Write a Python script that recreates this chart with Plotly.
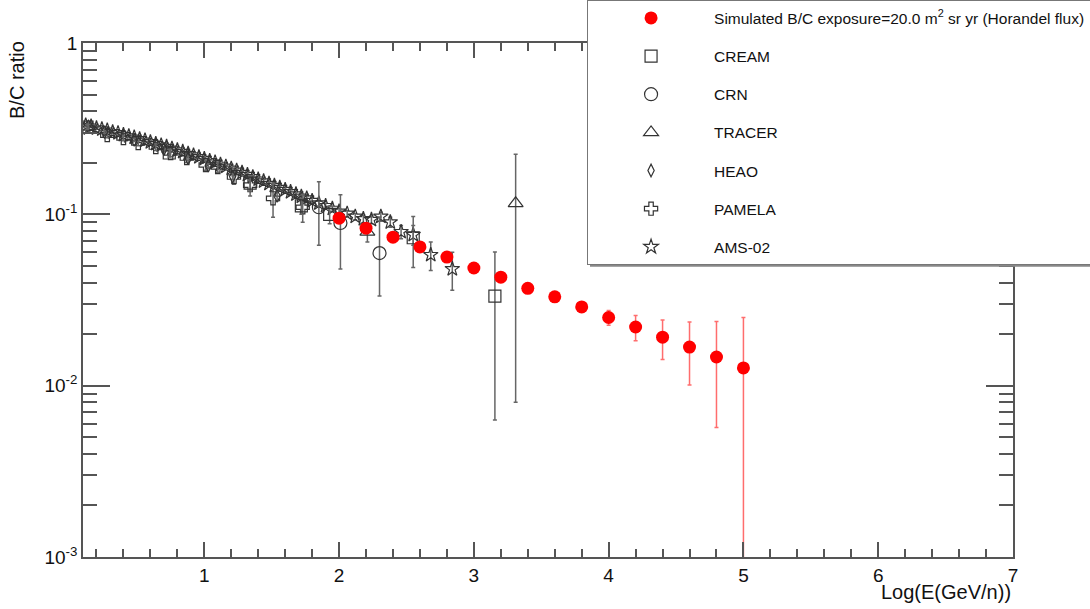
import plotly.graph_objects as go

# ---------------- data ----------------
sim_x = [2.0, 2.2, 2.4, 2.6, 2.8, 3.0, 3.2, 3.4, 3.6, 3.8, 4.0, 4.2, 4.4, 4.6, 4.8, 5.0]
sim_y = [0.095, 0.083, 0.0736, 0.0645, 0.0563, 0.0486, 0.043, 0.037, 0.033, 0.0288,
         0.025, 0.022, 0.0192, 0.0168, 0.0147, 0.0127]
sim_err = [0.002, 0.0017, 0.0015, 0.0013, 0.0012, 0.0011, 0.001, 0.001, 0.001, 0.0012,
           0.0025, 0.0037, 0.005, 0.0067, 0.009, 0.0123]

cream_x = [0.13, 0.74, 1.34, 1.72, 1.93, 2.55, 3.156]
cream_y = [0.323, 0.228, 0.152, 0.112, 0.100, 0.073, 0.0333]
cream_err = [0.010, 0.012, 0.015, 0.012, 0.012, 0.024, 0.027]

crn_x = [1.85, 2.01, 2.30]
crn_y = [0.110, 0.089, 0.0594]
crn_err_plus = [0.045, 0.041, 0.037]
crn_err_minus = [0.044, 0.041, 0.026]

tracer_x = [0.14, 2.21, 3.31]
tracer_y = [0.325, 0.079, 0.116]
tracer_err = [0.010, 0.010, 0.108]

heao_x = [0.11, 0.26, 0.48, 0.70, 0.88, 1.03, 1.21, 1.54]
heao_y = [0.318, 0.302, 0.272, 0.240, 0.212, 0.192, 0.166, 0.128]
heao_err = [0.006, 0.006, 0.006, 0.006, 0.006, 0.006, 0.007, 0.008]

pamela_x = [0.28, 0.40, 0.51, 0.64, 0.75, 0.87, 1.01, 1.10, 1.22, 1.34, 1.51, 1.73]
pamela_y = [0.290, 0.279, 0.261, 0.247, 0.228, 0.213, 0.194, 0.189, 0.165, 0.148, 0.124, 0.110]
pamela_err = [0.010, 0.010, 0.010, 0.011, 0.011, 0.012, 0.013, 0.013, 0.015, 0.020, 0.028, 0.020]

ams_x = [0.12, 0.16, 0.20, 0.24, 0.28, 0.32, 0.36, 0.40, 0.44, 0.48, 0.52, 0.56, 0.60, 0.64,
         0.68, 0.72, 0.76, 0.80, 0.84, 0.88, 0.92, 0.96, 1.00, 1.04, 1.08, 1.12, 1.16, 1.20,
         1.24, 1.28, 1.32, 1.36, 1.40, 1.44, 1.48, 1.52, 1.56, 1.60, 1.64, 1.68, 1.72, 1.76,
         1.80, 1.85, 1.90, 1.95, 2.00, 2.06, 2.12, 2.18, 2.24, 2.31, 2.38, 2.46, 2.55, 2.68, 2.84]
ams_y = [0.331, 0.326, 0.318, 0.314, 0.309, 0.302, 0.298, 0.291, 0.286, 0.281, 0.275, 0.270,
         0.264, 0.258, 0.253, 0.248, 0.242, 0.237, 0.232, 0.226, 0.221, 0.216, 0.211, 0.205,
         0.201, 0.195, 0.190, 0.185, 0.180, 0.175, 0.170, 0.165, 0.160, 0.156, 0.151, 0.147,
         0.143, 0.139, 0.135, 0.131, 0.127, 0.124, 0.120, 0.116, 0.112, 0.108, 0.104, 0.101,
         0.097, 0.094, 0.093, 0.097, 0.090, 0.079, 0.076, 0.058, 0.048]
ams_err = [0.004, 0.004, 0.004, 0.004, 0.004, 0.004, 0.004, 0.004, 0.004, 0.004, 0.004, 0.004,
           0.004, 0.004, 0.004, 0.004, 0.004, 0.004, 0.004, 0.004, 0.004, 0.004, 0.004, 0.004,
           0.004, 0.004, 0.004, 0.004, 0.004, 0.004, 0.004, 0.004, 0.004, 0.004, 0.004, 0.004,
           0.004, 0.004, 0.004, 0.004, 0.004, 0.004, 0.004, 0.004, 0.004, 0.004, 0.004, 0.004,
           0.004, 0.005, 0.005, 0.006, 0.006, 0.007, 0.010, 0.011, 0.012]

x_ticks = [1, 2, 3, 4, 5, 6, 7]
y_tickvals = [0.001, 0.01, 0.1, 1]
y_ticktext = ["10<sup>-3</sup>", "10<sup>-2</sup>", "10<sup>-1</sup>", "1"]

GRAY = "#555555"
FONT = "Liberation Sans, Arial, Helvetica, sans-serif"

# plot-area geometry (pixels) used for the legend shadow
L, R, T, B = 83, 1013, 43, 557


def px_x(p):
    return (p - L) / (R - L)


def px_y(p):
    return 1 - (p - T) / (B - T)


fig = go.Figure()


def exp_trace(name, xs, ys, ep, em, symbol, size, rank):
    return go.Scatter(
        x=xs, y=ys, mode="markers", name=name, legendrank=rank,
        legendgroup=name,
        marker=dict(symbol=symbol, size=size, color="#333333",
                    line=dict(color="#333333", width=1.2)),
        error_y=dict(type="data", array=ep, arrayminus=em, color="#666666",
                     thickness=1.5, width=2),
    )


fig.add_trace(exp_trace("AMS-02", ams_x, ams_y, ams_err, ams_err, "star-open", 11, 7))
fig.add_trace(exp_trace("PAMELA", pamela_x, pamela_y, pamela_err, pamela_err, "cross-open", 11, 6))
fig.add_trace(exp_trace("HEAO", heao_x, heao_y, heao_err, heao_err, "diamond-tall-open", 9, 5))
fig.add_trace(exp_trace("TRACER", tracer_x, tracer_y, tracer_err, tracer_err, "triangle-up-open", 13, 4))
fig.add_trace(exp_trace("CRN", crn_x, crn_y, crn_err_plus, crn_err_minus, "circle-open", 13, 3))
fig.add_trace(exp_trace("CREAM", cream_x, cream_y, cream_err, cream_err, "square-open", 12, 2))

fig.add_trace(go.Scatter(
    x=sim_x, y=sim_y, mode="markers", legendrank=1, legendgroup="sim",
    name="Simulated B/C exposure=20.0 m<sup>2</sup> sr yr (Horandel flux)",
    marker=dict(symbol="circle", size=13, color="#ff0000"),
    error_y=dict(type="data", array=sim_err, color="rgba(255,60,60,0.75)",
                 thickness=1.5, width=2),
))

minor_y = [m * 10 ** k for k in (-3, -2, -1) for m in range(2, 10)]

fig.update_xaxes(
    range=[0.1, 7], tickvals=x_ticks, ticks="inside", ticklen=15, tickwidth=1.5,
    tickcolor=GRAY, showline=True, linecolor=GRAY, linewidth=1.5, mirror="ticks",
    showgrid=False, zeroline=False,
    tickfont=dict(family=FONT, size=19, color="#111111"),
    minor=dict(dtick=0.2, tick0=0, ticks="inside", ticklen=8, tickwidth=1.5, tickcolor=GRAY,
               showgrid=False),
)
fig.update_yaxes(
    type="log", range=[-3, 0], tickvals=y_tickvals, ticktext=y_ticktext,
    ticks="inside", ticklen=27, tickwidth=1.5, tickcolor=GRAY,
    showline=True, linecolor=GRAY, linewidth=1.5, mirror="ticks",
    showgrid=False, zeroline=False,
    tickfont=dict(family=FONT, size=19, color="#111111"),
    minor=dict(tickvals=minor_y, ticks="inside", ticklen=14, tickwidth=1.5, tickcolor=GRAY,
               showgrid=False),
)

fig.update_layout(
    width=1090, height=609,
    margin=dict(l=L, r=1090 - R, t=T, b=609 - B, autoexpand=False),
    paper_bgcolor="white", plot_bgcolor="white",
    font=dict(family=FONT, size=15.5, color="#111111"),
    legend=dict(
        x=0.542, y=1.083, xanchor="left", yanchor="top",
        bgcolor="white", bordercolor="#777777", borderwidth=1,
        font=dict(family=FONT, size=15.5, color="#111111"),
        traceorder="grouped", tracegroupgap=15, itemwidth=116,
    ),
    shapes=[
        dict(type="line", xref="paper", yref="paper", x0=px_x(1089), x1=px_x(1089),
             y0=px_y(3), y1=px_y(266), line=dict(color="#888888", width=2.5)),
        dict(type="line", xref="paper", yref="paper", x0=px_x(590), x1=px_x(1090),
             y0=px_y(265.5), y1=px_y(265.5), line=dict(color="#888888", width=2.5)),
    ],
    annotations=[
        dict(text="Log(E(GeV/n))", xref="paper", yref="paper", x=1, y=0,
             xanchor="right", yanchor="top", yshift=-22, showarrow=False,
             font=dict(family=FONT, size=20, color="#111111")),
        dict(text="B/C ratio", xref="paper", yref="paper", x=0, y=0.928,
             xanchor="center", yanchor="middle", xshift=-66, textangle=-90, showarrow=False,
             font=dict(family=FONT, size=20, color="#111111")),
    ],
)

fig.write_html("out.html")
